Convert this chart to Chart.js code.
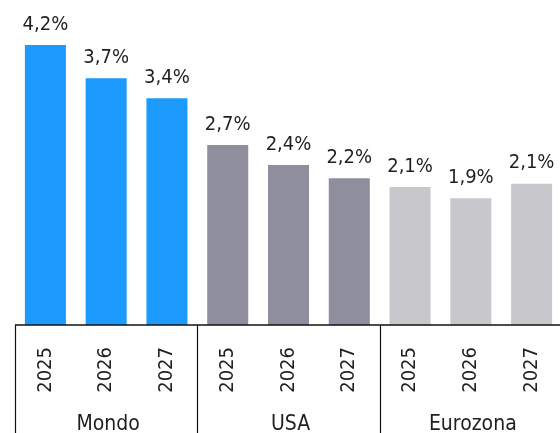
<!DOCTYPE html>
<html>
<head>
<meta charset="utf-8">
<script src="https://cdn.jsdelivr.net/npm/chart.js@4"></script>
<style>
  html, body { margin: 0; padding: 0; background: #fff; overflow: hidden; }
  #chart { display: block; }
</style>
</head>
<body>
<canvas id="chart" width="562" height="433"></canvas>
<script>
// ==================================
// Data
// ==================================
const years = ["2025", "2026", "2027", "2025", "2026", "2027", "2025", "2026", "2027"];
const groups = ["Mondo", "USA", "Eurozona"];
const groupSize = 3;
const growth = [4.2, 3.7, 3.4, 2.7, 2.4, 2.2, 2.07, 1.9, 2.12];

const groupColors = ["#1c9bfd", "#8f8e9d", "#c8c7cc"];
const FONT = "'DejaVu Sans Condensed', 'DejaVu Sans', sans-serif";
const TEXT = "#1f1f1f";

// ==================================
// Labels + group axis drawn on top
// ==================================
const decorations = {
  id: "decorations",
  afterDatasetsDraw(chart) {
    const { ctx, chartArea } = chart;
    const xs = chart.scales.x;
    const meta = chart.getDatasetMeta(0);

    ctx.save();
    ctx.font = "20px " + FONT;
    ctx.fillStyle = TEXT;
    ctx.textAlign = "center";
    ctx.textBaseline = "alphabetic";

    // value labels above each bar
    meta.data.forEach((bar, i) => {
      const txt = growth[i].toFixed(1).replace(".", ",") + "%";
      ctx.fillText(txt, bar.x, bar.y - 15.5);
    });

    // baseline
    ctx.strokeStyle = "#111";
    ctx.lineWidth = 1.5;
    ctx.beginPath();
    ctx.moveTo(chartArea.left, chartArea.bottom);
    ctx.lineTo(chart.width, chartArea.bottom);
    ctx.stroke();

    // group separators + names
    ctx.font = "21px " + FONT;
    const step = xs.getPixelForValue(1) - xs.getPixelForValue(0);
    ctx.lineWidth = 1.2;
    groups.forEach((name, g) => {
      const first = xs.getPixelForValue(g * groupSize);
      const last = xs.getPixelForValue(g * groupSize + groupSize - 1);
      const edge = first - step / 2;
      ctx.beginPath();
      ctx.moveTo(Math.round(edge) + 0.5, chartArea.bottom);
      ctx.lineTo(Math.round(edge) + 0.5, chart.height);
      ctx.stroke();
      ctx.fillText(name, (first + last) / 2 + 2, chartArea.bottom + 105);
    });

    ctx.restore();
  },
};

new Chart(document.getElementById("chart"), {
  type: "bar",
  data: {
    labels: years,
    datasets: [
      {
        data: growth,
        backgroundColor: growth.map((_, i) => groupColors[Math.floor(i / groupSize)]),
        borderWidth: 0,
        categoryPercentage: 1,
        barPercentage: 0.675,
      },
    ],
  },
  options: {
    responsive: false,
    animation: false,
    layout: { padding: { left: 15, right: 0, top: 0, bottom: 0 } },
    plugins: {
      legend: { display: false },
      tooltip: { enabled: false },
    },
    scales: {
      x: {
        grid: { display: false, drawTicks: false },
        border: { display: false },
        ticks: {
          autoSkip: false,
          minRotation: 90,
          maxRotation: 90,
          padding: 22,
          color: TEXT,
          font: { family: FONT, size: 20 },
        },
        afterFit(scale) {
          scale.height = 108;
          scale.paddingLeft = 0;
          scale.paddingRight = 0;
        },
      },
      y: {
        display: false,
        min: 0,
        max: 4.875,
      },
    },
  },
  plugins: [decorations],
});
</script>
</body>
</html>
